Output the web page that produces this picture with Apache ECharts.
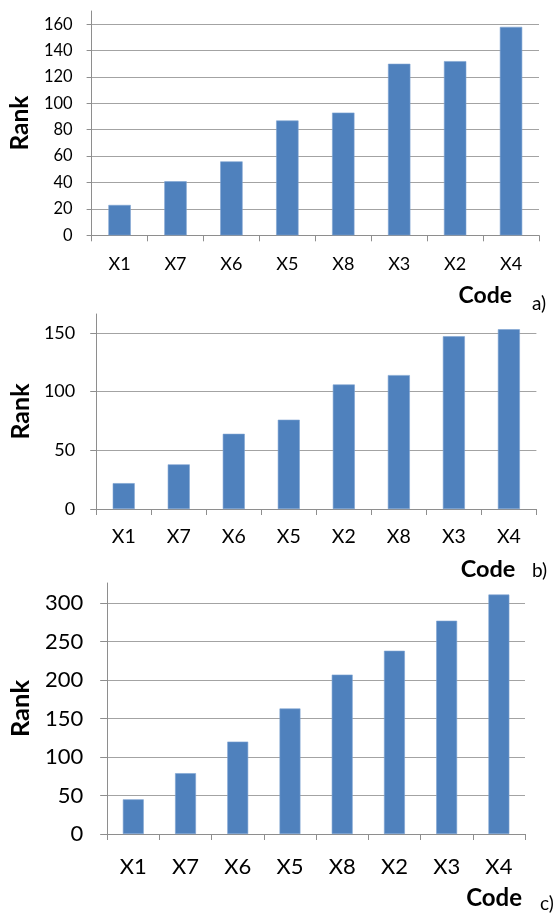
<!DOCTYPE html>
<html>
<head>
<meta charset="utf-8">
<script src="https://cdn.jsdelivr.net/npm/echarts@6/dist/echarts.min.js"></script>
<style>
html,body{margin:0;padding:0;background:#fff;}
#chart{width:557px;height:914px;}
</style>
</head>
<body>
<div id="chart"></div>
<script>
// Panel a
const categoriesA = ['X1', 'X7', 'X6', 'X5', 'X8', 'X3', 'X2', 'X4'];
const valuesA = [23, 41, 56, 87, 93, 130, 132, 158];
const ticksA = [0, 20, 40, 60, 80, 100, 120, 140, 160];
// Panel b
const categoriesB = ['X1', 'X7', 'X6', 'X5', 'X2', 'X8', 'X3', 'X4'];
const valuesB = [22, 38, 64, 76, 106, 114, 147, 153];
const ticksB = [0, 50, 100, 150];
// Panel c
const categoriesC = ['X1', 'X7', 'X6', 'X5', 'X8', 'X2', 'X3', 'X4'];
const valuesC = [45, 79, 120, 163, 207, 238, 277, 311];
const ticksC = [0, 50, 100, 150, 200, 250, 300];

const yName = 'Rank';
const xName = 'Code';
const panelLetters = ['a)', 'b)', 'c)'];

const FONT = 'Lato';
const GRID_COLOR = '#a3a3a3';
const AXIS_COLOR = '#8e8e8e';
const BAR_COLOR = '#4f81bd';

const panels = [
  { cats: categoriesA, vals: valuesA, ticks: ticksA, axisMax: 170,
    grid: { left: 86, right: 18, top: 11, bottom: 678.7 },
    yFont: 16.5, xFont: 18, yNameFont: 24.5, xNameFont: 23, yMargin: 19, xMargin: 20, yNameGap: 40,
    xNameGap: -27, xNamePad: 49, tickLen: 5 },
  { cats: categoriesB, vals: valuesB, ticks: ticksB, axisMax: 166,
    grid: { left: 94.5, right: 20.6, top: 314, bottom: 405 },
    yFont: 18, xFont: 19.5, yNameFont: 25, xNameFont: 23.5, yMargin: 21, xMargin: 18, yNameGap: 55,
    xNameGap: -21, xNamePad: 48, tickLen: 6 },
  { cats: categoriesC, vals: valuesC, ticks: ticksC, axisMax: 326,
    grid: { left: 102, right: 32, top: 583, bottom: 80 },
    yFont: 22, xFont: 22, yNameFont: 25.5, xNameFont: 24, yMargin: 24, xMargin: 22, yNameGap: 67,
    xNameGap: -3, xNamePad: 52, tickLen: 7 }
];

const grids = [], xAxes = [], yAxes = [], series = [];
panels.forEach((p, i) => {
  grids.push(Object.assign({ containLabel: false }, p.grid));
  xAxes.push({
    type: 'category', gridIndex: i, data: p.cats,
    boundaryGap: true,
    axisLine: { show: true, lineStyle: { color: AXIS_COLOR, width: 1 } },
    axisTick: { show: true, length: 6, lineStyle: { color: AXIS_COLOR } },
    axisLabel: { color: '#000', fontFamily: FONT, fontSize: p.xFont, margin: p.xMargin },
    splitLine: { show: false },
    name: xName, nameLocation: 'end', nameGap: p.xNameGap,
    nameTextStyle: { fontFamily: FONT, fontWeight: 'bold', fontSize: p.xNameFont, color: '#000',
      align: 'right', verticalAlign: 'top', padding: [p.xNamePad, 0, 0, 0] }
  });
  const splitColors = p.ticks.map(() => GRID_COLOR).concat(['rgba(0,0,0,0)']);
  yAxes.push({
    type: 'value', gridIndex: i, min: 0, max: p.axisMax,
    interval: p.ticks[1] - p.ticks[0],
    axisLine: { show: true, lineStyle: { color: AXIS_COLOR, width: 1 } },
    axisTick: { show: true, length: p.tickLen, customValues: p.ticks, lineStyle: { color: AXIS_COLOR } },
    axisLabel: { color: '#000', fontFamily: FONT, fontSize: p.yFont, margin: p.yMargin, customValues: p.ticks },
    splitLine: { show: true, lineStyle: { color: splitColors, width: 1 } },
    name: yName, nameLocation: 'middle', nameRotate: 90, nameGap: p.yNameGap,
    nameTextStyle: { fontFamily: FONT, fontWeight: 'bold', fontSize: p.yNameFont, color: '#000' }
  });
  series.push({
    type: 'bar', xAxisIndex: i, yAxisIndex: i, data: p.vals,
    barCategoryGap: '60%',
    itemStyle: { color: BAR_COLOR, borderColor: '#7ea3d1', borderWidth: 0.6 },
    silent: true, animation: false
  });
});

const letterPos = [[532, 305], [532, 572], [540, 905]];
const graphics = panelLetters.map((t, i) => ({
  type: 'text', left: letterPos[i][0], top: letterPos[i][1] - 11,
  style: { text: t, fontFamily: FONT, fontSize: 19, fill: '#000' }
}));

const chart = echarts.init(document.getElementById('chart'), null, { renderer: 'canvas' });
chart.setOption({
  animation: false,
  backgroundColor: '#fff',
  grid: grids, xAxis: xAxes, yAxis: yAxes, series: series,
  graphic: graphics
});
</script>
</body>
</html>
